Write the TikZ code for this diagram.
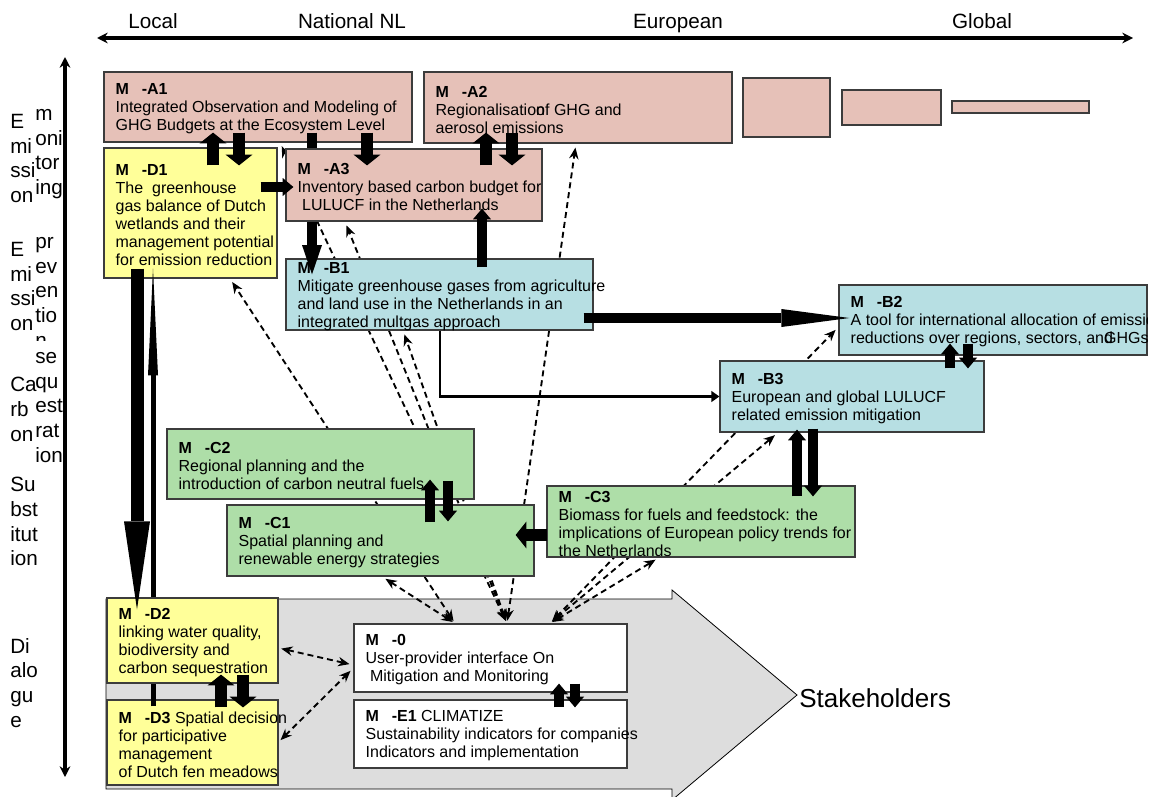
\documentclass[tikz,border=0pt]{standalone}
\usepackage{fontspec}
\setmainfont{Liberation Sans}
\usetikzlibrary{arrows.meta,fit,backgrounds}

\definecolor{monpink}{RGB}{230,193,184}
\definecolor{mitblue}{RGB}{183,223,227}
\definecolor{subgreen}{RGB}{174,222,168}
\definecolor{dialyellow}{RGB}{255,255,153}
\definecolor{stakegrey}{RGB}{221,221,221}
\definecolor{boxline}{RGB}{60,60,60}

\newcommand{\modtag}[1]{\textbf{M\hspace{0.8em}-#1}}

\tikzset{
  box/.style={draw=boxline, line width=0.9pt, inner sep=0pt},
  boxtxt/.style={anchor=west, align=left, inner sep=0pt, xshift=9pt, yshift=-1.5pt,
    font=\fontsize{12}{13.5}\selectfont},
  scalelbl/.style={anchor=base, inner sep=0pt, font=\fontsize{15.5}{18.5}\selectfont},
  sidelbl/.style={anchor=north west, align=left, inner sep=0pt,
    font=\fontsize{15.5}{18.5}\selectfont},
  over/.style 2 args={shorten <=-#1, shorten >=-#2},
  fat/.style={line width=9.5pt, -{Triangle[width=20pt,length=8pt,line width=0pt]}},
  slim/.style={line width=7pt, -{Triangle[width=13.5pt,length=8pt,line width=0pt]}},
  link/.style={line width=1.4pt, dash pattern=on 4.5pt off 3pt,
    {Stealth[length=8.5pt,width=7pt]}-{Stealth[length=8.5pt,width=7pt]},
    shorten <=2pt, shorten >=3pt},
}

\begin{document}
\begin{tikzpicture}[x=0.75pt, y=-0.75pt]
	\useasboundingbox (0,0) rectangle (1149,796);

	% scale axes
	\coordinate (localend) at (97,38);
	\coordinate (globalend) at (1133,38);
	\coordinate (axtop) at (65,57);
	\coordinate (axbot) at (65,777);
	\draw [line width=2.5pt, {Stealth[length=8pt,width=8pt]}-{Stealth[length=8pt,width=8pt]}] (localend) -- (globalend);
	\draw [line width=2.5pt, {Stealth[length=8pt,width=8pt]}-{Stealth[length=8pt,width=8pt]}] (axtop) -- (axbot);

	\node[scalelbl] (local) at (153,28) {Local};
	\node[scalelbl] (natl) at (352,28) {National NL};
	\node[scalelbl] (europe) at (678,28) {European};
	\node[scalelbl] (global) at (982,28) {Global};

	\node[sidelbl] (emmonl) at (10,114) {E\\mi\\ssi\\on};
	\node[sidelbl] (emmonr) at (35,109) {m\\oni\\tor\\ing};
	\node[sidelbl] (emprevl) at (10,242) {E\\mi\\ssi\\on};
	\begin{scope}
		\clip (30,230) rectangle (64,340);
		\node[sidelbl] (emprevr) at (35,237) {pr\\ev\\en\\tio\\n};
	\end{scope}
	\node[sidelbl] (carbl) at (10,377) {Ca\\rb\\on};
	\node[sidelbl] (carbr) at (35,352) {se\\qu\\est\\rat\\ion};
	\node[sidelbl] (subst) at (10,477) {Su\\bst\\itut\\ion};
	\node[sidelbl] (dialog) at (10,638) {Di\\alo\\gu\\e};

	% modules
	\node[box, fill=monpink, fit={(104,72)(412,142)}] (a1) {};
	\node[boxtxt] (a1txt) at (a1.west) {\modtag{A1}\\Integrated Observation and Modeling of\\GHG Budgets at the Ecosystem Level};
	\node[box, fill=monpink, fit={(424,72)(732,143)}] (a2) {};
	\node[boxtxt] (a2txt) at (a2.west) {\modtag{A2}\\Regionalisation\kern-0.55em of GHG and\\aerosol emissions};
	\node[box, fill=monpink, fit={(743,78)(830,137)}] (eu1) {};
	\node[box, fill=monpink, fit={(842,90)(941,125)}] (eu2) {};
	\node[box, fill=monpink, fit={(952,101)(1089,113)}] (glob1) {};

	\node[box, fill=mitblue, fit={(286,259)(593,330)}] (b1) {};
	\node[boxtxt] (b1txt) at (b1.west) {\modtag{B1}\\Mitigate greenhouse gases from agriculture\\and land use in the Netherlands in an\\integrated multgas approach};
	\node[box, fill=mitblue, fit={(839,285)(1147,355)}] (b2) {};
	\begin{scope}
		\clip (b2.south west) rectangle (b2.north east);
		\node[boxtxt] (b2txt) at (b2.west) {\modtag{B2}\\A tool for international allocation of emissions\\reductions over regions, sectors, and\kern-0.55em GHGs};
	\end{scope}
	\node[box, fill=mitblue, fit={(720,361)(984,432)}] (b3) {};
	\node[boxtxt] (b3txt) at (b3.west) {\modtag{B3}\\European and global LULUCF\\related emission mitigation};

	\node[box, fill=subgreen, fit={(167,429)(474,499)}] (c2) {};
	\node[boxtxt] (c2txt) at (c2.west) {\modtag{C2}\\Regional planning and the\\introduction of carbon neutral fuels};
	\node[box, fill=subgreen, fit={(227,505)(534,576)}] (c1) {};
	\node[boxtxt] (c1txt) at (c1.west) {\modtag{C1}\\Spatial planning and\\renewable energy strategies};
	\node[box, fill=subgreen, fit={(547,486)(855,557)}] (c3) {};
	\node[boxtxt] (c3txt) at (c3.west) {\modtag{C3}\\Biomass for fuels and feedstock: the\\implications of European policy trends for\\the Netherlands};

	\node[box, fill=dialyellow, fit={(104,148)(277,278)}] (d1) {};
	\node[boxtxt] (d1txt) at (d1.west) {\modtag{D1}\\The~~greenhouse\\gas balance of Dutch\\wetlands and their\\management potential\\for emission reduction};

	\node[box, fill=white, fit={(354,624)(627,692)}] (m0) {};
	\node[boxtxt] (m0txt) at (m0.west) {\modtag{0}\\User-provider interface On\\\ Mitigation and Monitoring};
	\node[box, fill=white, fit={(354,700)(627,768)}] (e1) {};
	\node[boxtxt] (e1txt) at (e1.west) {\modtag{E1} CLIMATIZE\\Sustainability indicators for companies\\Indicators and implementation};

	\node[box, fill=dialyellow, fit={(107,700)(278,785)}] (d3) {};
	\node[boxtxt] (d3txt) at (d3.west) {\modtag{D3} Spatial decision\\for participative\\management\\of Dutch fen meadows};
	\draw [line width=3.75pt, -{Triangle[width=7.5pt,length=80pt,line width=0pt]}, over={5.25pt}{7.5pt}] (153,0 |- d3.north) -- (153,0 |- d1.south);
	\node[box, fill=dialyellow, fit={(107,598)(278,683)}] (d2) {};
	\node[boxtxt] (d2txt) at (d2.west) {\modtag{D2}\\linking water quality,\\biodiversity and\\carbon sequestration};

	\draw [line width=7.5pt, -{Triangle[width=15pt,length=22pt,line width=0pt]}, over={7.5pt}{12pt}] (312,0 |- a1.south) -- (312,0 |- b1.north);
	\node[box, fill=monpink, fit={(286,149)(542,221)}] (a3) {};
	\node[boxtxt] (a3txt) at (a3.west) {\modtag{A3}\\Inventory based carbon budget for\\\ LULUCF in the Netherlands};

	% exchange arrows
	\draw [fat, over={13.5pt}{7.5pt}] (213,0 |- d1.north) -- (213,0 |- a1.south);
	\draw [fat, over={7.5pt}{13.5pt}] (239,0 |- a1.south) -- (239,0 |- d1.north);
	\draw [fat, over={12.75pt}{8.25pt}] (486,0 |- a3.north) -- (486,0 |- a2.south);
	\draw [fat, over={8.25pt}{12.75pt}] (512,0 |- a2.south) -- (512,0 |- a3.north);
	\draw [fat, over={7.5pt}{12.75pt}] (367,0 |- a1.south) -- (367,0 |- a3.north);
	\draw [slim, over={12.75pt}{6pt}] (d1.east |- 0,187) -- (a3.west |- 0,187);
	\draw [slim, over={6.75pt}{9.75pt}] (482,0 |- b1.north) -- (482,0 |- a3.south);
	\draw [line width=7.5pt, -{Triangle[width=13.5pt,length=51pt,line width=0pt]}, over={7.5pt}{8.25pt}] (b1.east |- 0,318) -- (b2.west |- 0,318);
	\draw [line width=2.2pt, -{Triangle[width=8pt,length=6pt]}] (440,0 |- b1.south) |- (b3.west);
	\draw [slim, over={6pt}{9pt}] (950,0 |- b3.north) -- (950,0 |- b2.south);
	\draw [slim, over={9pt}{6pt}] (968,0 |- b2.south) -- (968,0 |- b3.north);
	\draw [slim, over={8.25pt}{2.25pt}] (797,0 |- c3.north) -- (797,0 |- b3.south);
	\draw [slim, over={3pt}{8.25pt}] (813,0 |- b3.south) -- (813,0 |- c3.north);
	\draw [slim, over={13.5pt}{15pt}] (430,0 |- c1.north) -- (430,0 |- c2.south);
	\draw [slim, over={14.25pt}{12.75pt}] (448,0 |- c2.south) -- (448,0 |- c1.north);
	\draw [fat, over={0.75pt}{14.25pt}] (c3.west |- 0,535) -- (c1.east |- 0,535);
	\draw [line width=9.75pt, -{Triangle[width=19.5pt,length=66pt,line width=0pt]}, over={7.5pt}{9pt}] (137,0 |- d1.south) -- (137,0 |- d2.north);
	\draw [fat, over={6pt}{6.75pt}] (221,0 |- d3.north) -- (221,0 |- d2.south);
	\draw [fat, over={6.75pt}{6pt}] (243,0 |- d2.south) -- (243,0 |- d3.north);
	\draw [slim, over={6pt}{6.75pt}] (559,0 |- e1.north) -- (559,0 |- m0.south);
	\draw [slim, over={6.75pt}{6pt}] (575,0 |- m0.south) -- (575,0 |- e1.north);

	\node[anchor=base west, inner sep=0pt, font=\fontsize{19.5}{23}\selectfont] (stake) at (799,707) {Stakeholders};

	\begin{pgfonlayer}{background}
		% arrow towards the stakeholders
		\draw [fill=stakegrey, line width=0.6pt] (106,599) -- (672,599) -- (672,590) -- (797,695)
			-- (672,800) -- (672,789) -- (106,789) -- cycle;
		% links with the user-provider interface
		\draw [link] (455,0 |- m0.north) -- (230,0 |- d1.south);
		\draw [link] (455,0 |- m0.north) -- (382,0 |- c1.south);
		\draw [link] (507,0 |- m0.north) -- (280,0 |- a1.south);
		\draw [link] (507,0 |- m0.north) -- (345,0 |- a3.south);
		\draw [link] (507,0 |- m0.north) -- (403,0 |- b1.south);
		\draw [link] (507,0 |- m0.north) -- (576,0 |- a2.south);
		\draw [link] (550,0 |- m0.north) -- (778,0 |- b3.south);
		\draw [link] (550,0 |- m0.north) -- (b2.west |- 0,327);
		\draw [link] (550,0 |- m0.north) -- (659,0 |- c3.south);
		\draw [link] (d2.east |- 0,648) -- (m0.west |- 0,665);
		\draw [link] (d3.east |- 0,742) -- (m0.west |- 0,668);
	\end{pgfonlayer}

\end{tikzpicture}
\end{document}
